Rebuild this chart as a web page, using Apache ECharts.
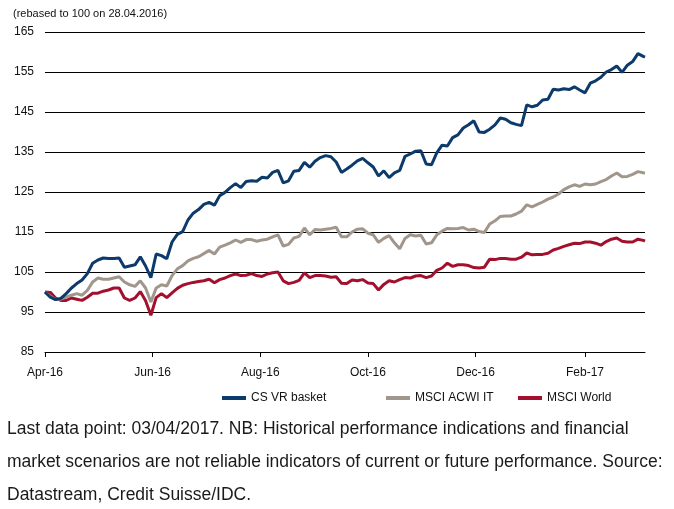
<!DOCTYPE html>
<html>
<head>
<meta charset="utf-8">
<script src="https://cdn.jsdelivr.net/npm/echarts@6/dist/echarts.min.js"></script>
<style>
html,body{margin:0;padding:0;background:#fff;}
#chart{width:674px;height:509px;}
</style>
</head>
<body>
<div id="chart"></div>
<script>
const dates = [
'2016-04-28','2016-05-01','2016-05-04','2016-05-07','2016-05-10','2016-05-13','2016-05-16','2016-05-19','2016-05-22','2016-05-25',
'2016-05-28','2016-05-31','2016-06-03','2016-06-06','2016-06-09','2016-06-12','2016-06-15','2016-06-18','2016-06-21','2016-06-24',
'2016-06-27','2016-06-30','2016-07-03','2016-07-06','2016-07-09','2016-07-12','2016-07-15','2016-07-18','2016-07-21','2016-07-24',
'2016-07-27','2016-07-30','2016-08-02','2016-08-05','2016-08-08','2016-08-11','2016-08-14','2016-08-17','2016-08-20','2016-08-23',
'2016-08-26','2016-08-29','2016-09-01','2016-09-04','2016-09-07','2016-09-10','2016-09-13','2016-09-16','2016-09-19','2016-09-22',
'2016-09-25','2016-09-28','2016-10-01','2016-10-04','2016-10-07','2016-10-10','2016-10-13','2016-10-16','2016-10-19','2016-10-22',
'2016-10-25','2016-10-28','2016-10-31','2016-11-03','2016-11-06','2016-11-09','2016-11-12','2016-11-15','2016-11-18','2016-11-21',
'2016-11-24','2016-11-27','2016-11-30','2016-12-03','2016-12-06','2016-12-09','2016-12-12','2016-12-15','2016-12-18','2016-12-21',
'2016-12-24','2016-12-27','2016-12-30','2017-01-02','2017-01-05','2017-01-08','2017-01-11','2017-01-14','2017-01-17','2017-01-20',
'2017-01-23','2017-01-26','2017-01-29','2017-02-01','2017-02-04','2017-02-07','2017-02-10','2017-02-13','2017-02-16','2017-02-19',
'2017-02-22','2017-02-25','2017-02-28','2017-03-03','2017-03-06','2017-03-09','2017-03-12','2017-03-15','2017-03-18','2017-03-21',
'2017-03-24','2017-03-27','2017-03-30','2017-04-02','2017-04-03'
];

const csVrBasket = [
100,98.7,98.1,98.4,99.6,101.0,102.1,103.0,104.6,107.2,
108.0,108.5,108.4,108.4,108.5,106.2,106.5,106.8,108.8,106.5,
103.6,109.5,109.1,108.3,112.5,114.4,115.1,118.0,119.7,120.6,
121.9,122.4,121.7,124.1,124.9,126.1,127.1,126.1,127.6,127.8,
127.7,128.7,128.5,129.9,130.4,127.3,127.8,130.2,130.4,132.4,
131.2,132.7,133.6,134.1,133.8,132.5,129.9,130.75,131.7,132.8,
133.4,132.3,131.25,129.0,130.3,128.6,129.8,130.4,133.9,134.5,
135.2,135.3,132.0,131.8,134.8,136.7,136.5,138.6,139.3,141.0,
141.8,142.8,140.0,139.9,140.7,141.8,143.5,143.2,142.3,141.9,
141.6,146.8,146.3,146.7,148.0,148.2,150.7,150.5,150.8,150.6,
151.3,150.5,149.8,152.2,152.8,153.7,155.0,155.6,156.5,154.9,
156.7,157.6,159.6,158.9,158.7
];

const msciAcwiIt = [
100,98.9,98.1,98.25,98.7,99.2,99.6,99.2,100.4,102.5,
103.5,103.2,103.2,103.5,103.8,102.5,101.8,101.4,102.8,101.0,
97.5,101.0,101.8,101.5,104.1,105.8,106.6,107.8,108.4,108.8,
109.6,110.4,109.5,111.2,111.7,112.3,113.0,112.4,113.1,113.1,
112.7,113.0,113.2,113.8,114.3,111.5,111.9,113.5,113.9,116.0,
114.3,115.6,115.5,115.7,115.9,116.2,113.8,113.8,115.0,115.7,
115.8,114.7,114.3,112.4,113.4,114.1,112.3,110.8,113.4,114.3,
114.0,114.2,112.0,112.3,114.3,115.2,115.9,115.8,115.9,116.1,
115.5,115.7,115.1,114.9,117.0,117.8,118.9,119.0,119.0,119.5,
120.2,121.8,121.3,121.9,122.5,123.2,123.75,124.5,125.6,126.3,
126.8,126.4,127.0,126.8,127.0,127.6,128.1,129.0,129.75,128.8,
128.9,129.4,130.1,129.8,129.75
];

const msciWorld = [
100,99.9,98.5,97.9,97.9,98.5,98.2,97.9,98.7,99.7,
99.7,100.2,100.5,101.0,101.0,98.5,97.9,98.5,100.1,97.8,
94.2,98.6,99.6,98.6,99.8,100.9,101.7,102.1,102.4,102.6,
102.8,103.2,102.3,103.1,103.5,104.1,104.5,104.1,104.2,104.6,
104.1,103.9,104.5,104.8,105.0,102.8,102.1,102.4,102.9,104.8,
103.6,104.1,104.1,104.0,103.7,103.8,102.2,102.1,103.0,102.8,
103.1,102.25,102.1,100.5,101.9,102.8,102.5,103.1,103.6,103.5,
104.0,104.1,103.6,104.0,105.4,106.0,107.2,106.4,106.8,106.8,
106.6,106.1,106.0,106.2,108.2,108.1,108.4,108.4,108.2,108.2,
108.7,109.75,109.3,109.4,109.4,109.7,110.5,110.9,111.4,111.8,
112.2,112.1,112.5,112.5,112.2,111.7,112.6,113.2,113.5,112.7,
112.5,112.5,113.2,112.9,112.7
];

const seriesNames = ['CS VR basket', 'MSCI ACWI IT', 'MSCI World'];
const seriesColors = ['#0b3a6b', '#a0968b', '#a3102d'];
const tickDates = ['2016-04-28','2016-06-28','2016-08-28','2016-10-28','2016-12-28','2017-02-28'];
const tickLabels = ['Apr-16','Jun-16','Aug-16','Oct-16','Dec-16','Feb-17'];
const axisStart = '2016-04-28';
const axisEnd = '2017-04-03';
const subtitle = '(rebased to 100 on 28.04.2016)';
const footLines = [
  'Last data point: 03/04/2017. NB: Historical performance indications and financial',
  'market scenarios are not reliable indicators of current or future performance. Source:',
  'Datastream, Credit Suisse/IDC.'
];

function ts(s) { const p = s.split('-'); return Date.UTC(+p[0], +p[1] - 1, +p[2]); }
function dayOf(s) { return Math.round((ts(s) - ts(axisStart)) / 86400000); }
const tickDays = tickDates.map(dayOf);
const allSeries = [csVrBasket, msciAcwiIt, msciWorld];

const chart = echarts.init(document.getElementById('chart'), null, {renderer: 'canvas'});
const FONT = '"Liberation Sans", Arial, sans-serif';
const legendLefts = [222, 386, 518];

chart.setOption({
  animation: false,
  textStyle: {fontFamily: FONT},
  grid: {left: 45, right: 29, top: 32, bottom: 157, containLabel: false},
  xAxis: {
    type: 'value',
    min: 0,
    max: dayOf(axisEnd),
    axisLine: {show: true, onZero: false, lineStyle: {color: '#000', width: 1}},
    axisTick: {show: true, customValues: tickDays, length: 5, lineStyle: {color: '#000', width: 1}},
    axisLabel: {
      customValues: tickDays,
      color: '#111', fontSize: 12, fontFamily: FONT, margin: 15,
      formatter: function (v) {
        const i = tickDays.indexOf(Math.round(v));
        return i >= 0 ? tickLabels[i] : '';
      }
    },
    splitLine: {show: false}
  },
  yAxis: {
    type: 'value', min: 85, max: 165, interval: 10,
    axisLine: {show: false}, axisTick: {show: false},
    axisLabel: {color: '#111', fontSize: 12, fontFamily: FONT, margin: 11},
    splitLine: {show: true, lineStyle: {color: '#000', width: 1}}
  },
  legend: seriesNames.map(function (n, k) {
    return {
      left: legendLefts[k], top: 392, padding: 0,
      itemWidth: 24, itemHeight: 4,
      icon: 'rect',
      textStyle: {color: '#111', fontSize: 12, fontFamily: FONT},
      data: [n]
    };
  }),
  graphic: [
    {type: 'text', left: 13, top: 8, style: {text: subtitle, fill: '#111', font: '11px ' + FONT}}
  ].concat(footLines.map(function (t, i) {
    return {type: 'text', left: 7, top: 420 + i * 33, style: {text: t, fill: '#1a1a1a', font: '17.5px ' + FONT}};
  })),
  series: seriesNames.map(function (n, k) {
    return {
      name: n, type: 'line', showSymbol: false, symbol: 'none',
      lineStyle: {width: 3, color: seriesColors[k]},
      itemStyle: {color: seriesColors[k]},
      z: 10 - k,
      data: dates.map(function (d, i) { return [dayOf(d), allSeries[k][i]]; })
    };
  })
});
</script>
</body>
</html>
